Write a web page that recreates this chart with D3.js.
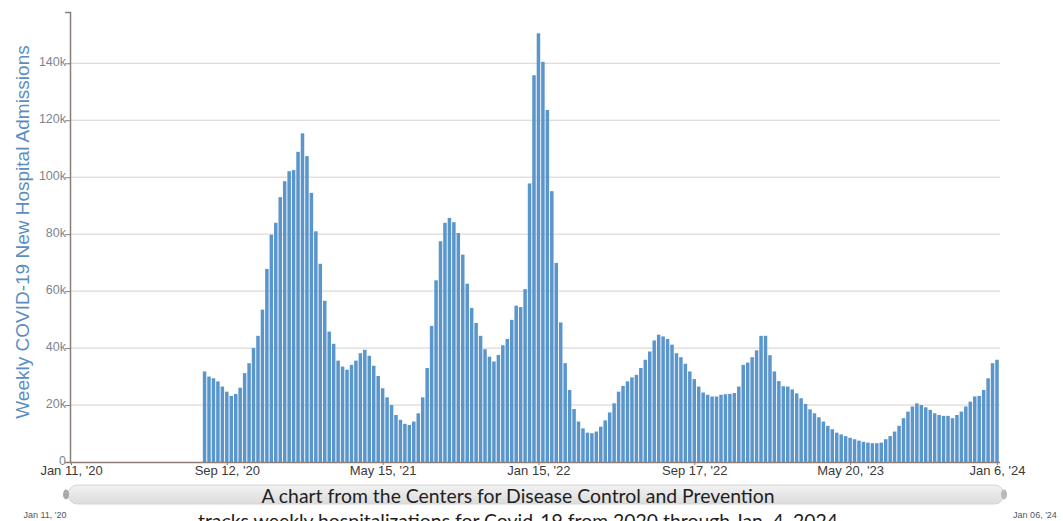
<!DOCTYPE html>
<html>
<head>
<meta charset="utf-8">
<script src="https://cdn.jsdelivr.net/npm/d3@7"></script>
<style>
  html, body { margin: 0; padding: 0; background: #fff; }
  svg { display: block; }
</style>
</head>
<body>
<svg id="chart" width="1063" height="521"></svg>
<script>
// ---- data ----
const startWeek = "2020-08-08";          // week ending date of first bar
const admissionsK = [
  31.8, 30.0, 29.4, 28.3, 26.5, 24.7, 23.2, 23.9, 26.1, 31.2,
  34.7, 40.0, 44.3, 53.5, 67.8, 79.8, 84.0, 93.0, 98.6, 102.1,
  102.5, 108.9, 115.4, 107.4, 94.5, 81.0, 69.6, 56.6, 45.8, 41.5,
  35.6, 33.5, 32.4, 34.1, 35.6, 38.2, 39.4, 37.3, 33.8, 30.2,
  25.9, 22.7, 20.0, 16.5, 14.8, 13.4, 13.0, 14.2, 17.1, 22.7,
  33.0, 47.8, 63.8, 77.5, 84.0, 85.7, 84.2, 80.4, 72.8, 62.6,
  54.1, 48.8, 44.3, 39.6, 37.0, 35.3, 37.6, 41.0, 43.2, 49.9,
  54.9, 54.4, 60.7, 97.8, 135.8, 150.5, 140.5, 123.6, 95.1, 69.9,
  49.0, 34.7, 25.3, 18.6, 14.2, 11.8, 10.3, 10.1, 10.7, 12.4,
  14.6, 17.4, 20.6, 24.7, 26.7, 28.3, 29.7, 30.6, 33.0, 35.9,
  38.8, 42.7, 44.7, 44.1, 43.2, 41.2, 38.2, 36.8, 34.5, 31.8,
  29.1, 26.5, 24.4, 23.6, 23.0, 23.0, 23.6, 23.8, 23.9, 24.2,
  26.5, 34.1, 34.9, 36.8, 39.2, 44.3, 44.3, 37.5, 31.8, 28.4,
  26.6, 26.5, 25.5, 24.1, 22.4, 20.4, 18.5, 17.1, 15.7, 14.2,
  12.7, 11.5, 10.3, 9.7, 9.1, 8.5, 8.0, 7.5, 7.1, 6.8,
  6.6, 6.6, 6.8, 8.0, 9.1, 10.7, 12.7, 15.4, 17.7, 19.5,
  20.6, 20.0, 19.2, 18.3, 17.1, 16.5, 16.2, 16.2, 15.4, 16.5,
  17.7, 19.5, 21.2, 23.0, 23.2, 25.3, 29.4, 34.7, 35.9
];
const xTickDates = ["2020-01-11", "2020-09-12", "2021-05-15", "2022-01-15", "2022-09-17", "2023-05-20", "2024-01-06"];
const xTickLabels = ["Jan 11, '20", "Sep 12, '20", "May 15, '21", "Jan 15, '22", "Sep 17, '22", "May 20, '23", "Jan 6, '24"];
const yTickValues = [0, 20000, 40000, 60000, 80000, 100000, 120000, 140000];
const yTickLabels = ["0", "20k", "40k", "60k", "80k", "100k", "120k", "140k"];
const yTitle = "Weekly COVID-19 New Hospital Admissions";
const navLabels = ["Jan 11, '20", "Jan 06, '24"];
const caption = ["A chart from the Centers for Disease Control and Prevention",
                 "tracks weekly hospitalizations for Covid-19 from 2020 through Jan. 4, 2024"];

// ---- build ----
const parse = d3.utcParse("%Y-%m-%d");
const t0 = parse(startWeek);
const data = admissionsK.map((v, i) => ({ date: d3.utcDay.offset(t0, i * 7), value: v * 1000 }));

const svg = d3.select("#chart");
const x = d3.scaleUtc()
  .domain([parse(xTickDates[0]), parse(xTickDates[xTickDates.length - 1])])
  .range([71, 997]);
const y = d3.scaleLinear().domain([0, 158000]).range([462, 12]);

// gridlines
svg.append("g")
  .selectAll("line")
  .data(yTickValues.slice(1))
  .join("line")
  .attr("x1", 70).attr("x2", 1000)
  .attr("y1", d => y(d)).attr("y2", d => y(d))
  .attr("stroke", "#d9cfcc").attr("stroke-width", 1);

// bars
const bw = 3.5;
svg.append("g")
  .selectAll("rect")
  .data(data)
  .join("rect")
  .attr("x", d => x(d.date) - bw / 2)
  .attr("width", bw)
  .attr("y", d => y(d.value))
  .attr("height", d => y(0) - y(d.value))
  .attr("fill", "#5a96cc");

// y axis
const yAxis = d3.axisLeft(y)
  .tickValues(yTickValues)
  .tickFormat((d, i) => yTickLabels[i])
  .tickSize(5)
  .tickSizeOuter(5);
const gy = svg.append("g").attr("transform", "translate(70,0)").call(yAxis);
gy.select(".domain").attr("stroke", "#8a7e7b").attr("stroke-width", 1.5);
gy.selectAll(".tick line").attr("stroke", "#8a7e7b");
gy.selectAll(".tick text")
  .attr("font-family", "Arial, 'Liberation Sans', sans-serif")
  .attr("font-size", 12.5)
  .attr("fill", "#7d8590")
  .attr("x", -4)
  .attr("dy", "0.2em");

// x axis
const xAxis = d3.axisBottom(x)
  .tickValues(xTickDates.map(parse))
  .tickFormat((d, i) => xTickLabels[i])
  .tickSize(3)
  .tickSizeOuter(0);
const gx = svg.append("g").attr("transform", "translate(0,462)").call(xAxis);
gx.select(".domain").attr("stroke", "#8a7e7b").attr("stroke-width", 1.5)
  .attr("d", "M70,0.5H1000");
gx.selectAll(".tick line").attr("stroke", "#8a7e7b");
gx.selectAll(".tick text")
  .attr("font-family", "Arial, 'Liberation Sans', sans-serif")
  .attr("font-size", 13)
  .attr("fill", "#3a3a3a")
  .attr("y", 4);

// y title
svg.append("text")
  .attr("transform", "translate(29,232) rotate(-90)")
  .attr("text-anchor", "middle")
  .attr("font-family", "Arial, 'Liberation Sans', sans-serif")
  .attr("font-size", 19)
  .attr("fill", "#5a8dc4")
  .text(yTitle);

// navigator / scrollbar
const defs = svg.append("defs");
const grad = defs.append("linearGradient").attr("id", "nav").attr("x1", 0).attr("y1", 0).attr("x2", 0).attr("y2", 1);
grad.append("stop").attr("offset", "0%").attr("stop-color", "#f2f2f2");
grad.append("stop").attr("offset", "100%").attr("stop-color", "#dcdcdc");
svg.append("rect")
  .attr("x", 68).attr("y", 485).attr("width", 936).attr("height", 19)
  .attr("rx", 9.5).attr("fill", "url(#nav)").attr("stroke", "#d4d4d4");
svg.append("ellipse").attr("cx", 66).attr("cy", 494.5).attr("rx", 3).attr("ry", 5).attr("fill", "#a9a9a9");
svg.append("ellipse").attr("cx", 1004).attr("cy", 494.5).attr("rx", 3).attr("ry", 5).attr("fill", "#b9b9b9");

svg.append("g").selectAll("text")
  .data(navLabels)
  .join("text")
  .attr("x", (d, i) => i === 0 ? 45 : 1035)
  .attr("y", 518)
  .attr("text-anchor", "middle")
  .attr("font-family", "Arial, 'Liberation Sans', sans-serif")
  .attr("font-size", 9)
  .attr("fill", "#555")
  .text(d => d);

// caption
svg.append("g").selectAll("text")
  .data(caption)
  .join("text")
  .attr("x", 518)
  .attr("y", (d, i) => 503 + i * 25)
  .attr("text-anchor", "middle")
  .attr("font-family", "Lato, 'Open Sans', sans-serif")
  .attr("font-size", 19.4)
  .attr("fill", "#1e1e1e")
  .text(d => d);
</script>
</body>
</html>
